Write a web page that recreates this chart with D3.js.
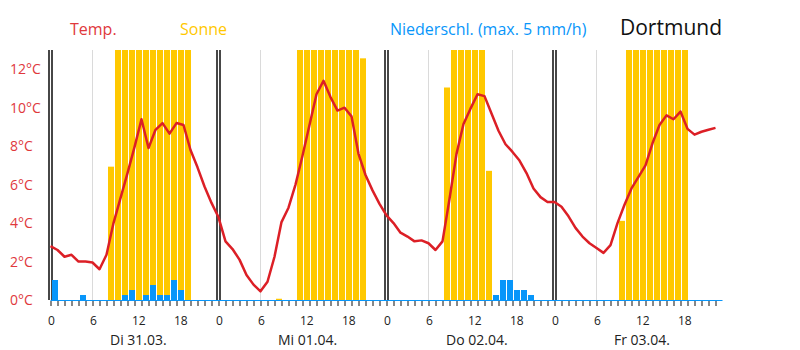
<!DOCTYPE html>
<html>
<head>
<meta charset="utf-8">
<script src="https://cdn.jsdelivr.net/npm/d3@7"></script>
<style>
  body { margin: 0; background: #fff; }
  svg { display: block; font-family: "Open Sans", sans-serif; }
</style>
</head>
<body>
<svg id="chart" width="800" height="350"></svg>
<script>
const days = ["Di 31.03.", "Mi 01.04.", "Do 02.04.", "Fr 03.04."];
const hourLabels = [0, 6, 12, 18];
const tempTicks = [0, 2, 4, 6, 8, 10, 12];

// hourly temperature (°C), one array per day
const tempDi = [2.8, 2.6, 2.25, 2.35, 2.0, 2.0, 1.95, 1.6, 2.35, 4.0, 5.3, 6.6, 7.95, 9.4, 7.9, 8.85, 9.2, 8.65, 9.2, 9.1, 7.8, 6.9, 5.9, 5.05];
const tempMi = [4.3, 3.05, 2.65, 2.1, 1.3, 0.8, 0.45, 0.95, 2.25, 4.05, 4.8, 6.0, 7.5, 9.1, 10.7, 11.4, 10.55, 9.85, 10.0, 9.55, 7.6, 6.5, 5.7, 5.0];
const tempDo = [4.4, 4.0, 3.5, 3.3, 3.05, 3.1, 2.95, 2.6, 3.05, 5.25, 7.6, 9.15, 9.95, 10.7, 10.6, 9.7, 8.8, 8.1, 7.7, 7.25, 6.6, 5.8, 5.35, 5.1];
const tempFr = [5.1, 4.85, 4.35, 3.75, 3.3, 2.95, 2.7, 2.45, 2.85, 4.0, 4.95, 5.8, 6.4, 7.0, 8.15, 9.1, 9.6, 9.4, 9.8, 8.9, 8.6, 8.75, 8.85, 8.95];

// sunshine minutes per hour
const sunDi = [0, 0, 0, 0, 0, 0, 0, 0, 32, 60, 60, 60, 60, 60, 60, 60, 60, 60, 60, 60, 0, 0, 0, 0];
const sunMi = [0, 0, 0, 0, 0, 0, 0, 0, 0.3, 0, 0, 60, 60, 60, 60, 60, 60, 60, 60, 60, 58, 0, 0, 0];
const sunDo = [0, 0, 0, 0, 0, 0, 0, 0, 51, 60, 60, 60, 60, 60, 31, 0, 0, 0, 0, 0, 0, 0, 0, 0];
const sunFr = [0, 0, 0, 0, 0, 0, 0, 0, 0, 19, 60, 60, 60, 60, 60, 60, 60, 60, 60, 0, 0, 0, 0, 0];

// precipitation mm/h
const rainDi = [0.4, 0, 0, 0, 0.1, 0, 0, 0, 0, 0, 0.1, 0.2, 0, 0.1, 0.3, 0.1, 0.1, 0.4, 0.2, 0, 0, 0, 0, 0];
const rainMi = [0, 0, 0, 0, 0, 0, 0, 0, 0, 0, 0, 0, 0, 0, 0, 0, 0, 0, 0, 0, 0, 0, 0, 0];
const rainDo = [0, 0, 0, 0, 0, 0, 0, 0, 0, 0, 0, 0, 0, 0, 0, 0.1, 0.4, 0.4, 0.2, 0.2, 0.1, 0, 0, 0];
const rainFr = [0, 0, 0, 0, 0, 0, 0, 0, 0, 0, 0, 0, 0, 0, 0, 0, 0, 0, 0, 0, 0, 0, 0, 0];

const temp = [].concat(tempDi, tempMi, tempDo, tempFr);
const sun = [].concat(sunDi, sunMi, sunDo, sunFr);
const rain = [].concat(rainDi, rainMi, rainDo, rainFr);

const red = "#dc1f26";
const redText = "#e0383c";
const yellow = "#ffc800";
const blue = "#0896fa";

const marginTop = 50;
const baseY = 300;
const hours = days.length * 24;

const svg = d3.select("#chart");

const x = d3.scaleLinear().domain([0, hours]).range([50.5, 722.5]);
const yT = d3.scaleLinear().domain([0, 13]).range([baseY, marginTop]);
const ySun = d3.scaleLinear().domain([0, 60]).range([baseY, marginTop]);
const yRain = d3.scaleLinear().domain([0, 5]).range([baseY, marginTop]);

// light grid at 6 and 18 h
const grid = [];
days.forEach((d, i) => { grid.push(i * 24 + 6, i * 24 + 18); });
svg.append("g")
  .selectAll("line")
  .data(grid)
  .join("line")
  .attr("x1", (d) => x(d))
  .attr("x2", (d) => x(d))
  .attr("y1", marginTop)
  .attr("y2", baseY)
  .attr("stroke", "#dadada")
  .attr("stroke-width", 1);

// day separators (double dark lines)
const sep = svg.append("g");
days.forEach((d, i) => {
  [-1.5, 1.5].forEach((off) => {
    sep.append("line")
      .attr("x1", x(i * 24) + off)
      .attr("x2", x(i * 24) + off)
      .attr("y1", marginTop)
      .attr("y2", baseY)
      .attr("stroke", "#474747")
      .attr("stroke-width", 2);
  });
});

// sunshine bars
svg.append("g")
  .selectAll("rect")
  .data(sun)
  .join("rect")
  .attr("x", (d, i) => x(i) + 1.5)
  .attr("width", x(1) - x(0) - 1)
  .attr("y", (d) => ySun(d))
  .attr("height", (d) => baseY - ySun(d))
  .attr("fill", yellow);

// precipitation bars
svg.append("g")
  .selectAll("rect")
  .data(rain)
  .join("rect")
  .attr("x", (d, i) => x(i) + 1.5)
  .attr("width", x(1) - x(0) - 1)
  .attr("y", (d) => yRain(d))
  .attr("height", (d) => baseY - yRain(d))
  .attr("fill", blue);

// x axis: hourly ticks, blue baseline
const xAxis = svg.append("g")
  .attr("transform", `translate(0,${baseY})`)
  .call(d3.axisBottom(x).tickValues(d3.range(hours)).tickSize(6).tickFormat("").tickSizeOuter(0));
xAxis.select(".domain").attr("stroke", blue).attr("stroke-width", 1.2).attr("d", `M${x(0)},0.5H${x(hours)}`);
xAxis.selectAll(".tick line").attr("stroke", "#111").attr("stroke-width", 1).attr("y1", 1);

// hour labels
const hourTicks = [];
days.forEach((d, i) => hourLabels.forEach((h) => hourTicks.push({ t: i * 24 + h, h })));
svg.append("g")
  .selectAll("text")
  .data(hourTicks)
  .join("text")
  .attr("x", (d) => x(d.t) - 2.5)
  .attr("y", 325)
  .attr("font-size", "12px")
  .attr("fill", "#222")
  .text((d) => d.h);

// day labels
svg.append("g")
  .selectAll("text")
  .data(days)
  .join("text")
  .attr("x", (d, i) => x(i * 24 + 8.5))
  .attr("y", 345)
  .attr("font-size", "14px")
  .attr("fill", "#222")
  .text((d) => d);

// y labels
svg.append("g")
  .selectAll("text")
  .data(tempTicks)
  .join("text")
  .attr("x", 10)
  .attr("y", (d) => yT(d))
  .attr("dy", "0.36em")
  .attr("font-size", "14px")
  .attr("fill", redText)
  .text((d) => d + "°C");

// temperature line
const line = d3.line()
  .x((d, i) => x(i))
  .y((d) => yT(d));
svg.append("path")
  .datum(temp)
  .attr("fill", "none")
  .attr("stroke", red)
  .attr("stroke-width", 2.5)
  .attr("stroke-linejoin", "round")
  .attr("d", line);

// legend
const legend = [
  { label: "Temp.", x: 70, color: redText },
  { label: "Sonne", x: 180, color: yellow },
  { label: "Niederschl. (max. 5 mm/h)", x: 390, color: blue },
];
svg.append("g")
  .selectAll("text")
  .data(legend)
  .join("text")
  .attr("x", (d) => d.x)
  .attr("y", 35)
  .attr("font-size", "16px")
  .attr("fill", (d) => d.color)
  .text((d) => d.label);

svg.append("text")
  .attr("x", 620)
  .attr("y", 35)
  .attr("font-size", "21px")
  .attr("fill", "#111")
  .text("Dortmund");
</script>
</body>
</html>
